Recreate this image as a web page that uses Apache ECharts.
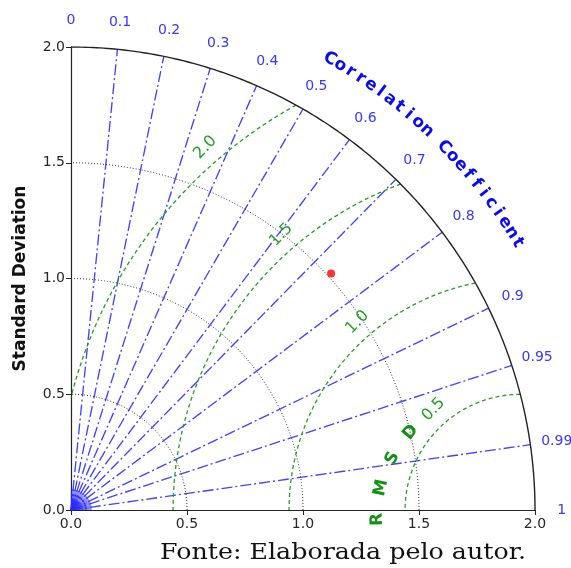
<!DOCTYPE html>
<html>
<head>
<meta charset="utf-8">
<script src="https://cdn.jsdelivr.net/npm/echarts@6/dist/echarts.min.js"></script>
<style>
html,body{margin:0;padding:0;background:#fff;}
#chart{width:571px;height:568px;}
</style>
</head>
<body>
<div id="chart"></div>
<script>
// ---- data ----
const corrTicks = [0, 0.1, 0.2, 0.3, 0.4, 0.5, 0.6, 0.7, 0.8, 0.9, 0.95, 0.99, 1];
const corrTickLabels = ['0', '0.1', '0.2', '0.3', '0.4', '0.5', '0.6', '0.7', '0.8', '0.9', '0.95', '0.99', '1'];
const stdAxisTicks = [0, 0.5, 1.0, 1.5, 2.0];
const stdCircles = [0.5, 1.0, 1.5];
const stdMax = 2.0;
const refStd = 1.94;
const rmsdLevels = [0.5, 1.0, 1.5, 2.0];
const rmsdLabels = ['0.5', '1.0', '1.5', '2.0'];
const modelStd = [1.517];
const modelCorr = [0.739];
const corrTitle = 'Correlation Coefficient';
const rmsdTitle = 'RMSD';
const yTitle = 'Standard Deviation';
const footer = 'Fonte: Elaborada pelo autor.';

// ---- geometry helpers ----
const D2R = Math.PI / 180;
function arc(cx, cy, r, a0, a1, n) {
  const pts = [];
  for (let i = 0; i <= n; i++) {
    const a = a0 + (a1 - a0) * i / n;
    pts.push([cx + r * Math.cos(a), cy + r * Math.sin(a)]);
  }
  return pts;
}
const series = [];
const BLUE = 'rgb(45,45,255)';
const GREEN = 'rgb(35,160,35)';

// correlation rays
corrTicks.forEach(c => {
  if (c <= 0 || c >= 1) return;
  const s = Math.sqrt(1 - c * c);
  series.push({type: 'line', data: [[0, 0], [stdMax * c, stdMax * s]], showSymbol: false, silent: true,
    lineStyle: {color: BLUE, width: 1.35, type: [11, 3, 2, 3], opacity: 0.9}, z: 2});
});
// dense fan near origin
for (let a = 2; a < 90; a += 3) {
  const r0 = 0.09;
  series.push({type: 'line', data: [[0, 0], [r0 * Math.cos(a * D2R), r0 * Math.sin(a * D2R)]], showSymbol: false, silent: true,
    lineStyle: {color: BLUE, width: 1, opacity: 0.6}, z: 2});
}
[0.02, 0.035, 0.05, 0.065].forEach(r => {
  series.push({type: 'line', data: arc(0, 0, r, 0, Math.PI / 2, 30), showSymbol: false, silent: true,
    lineStyle: {color: BLUE, width: 1, opacity: 0.7}, z: 2});
});
// std dotted circles
stdCircles.forEach(r => {
  series.push({type: 'line', data: arc(0, 0, r, 0, Math.PI / 2, 120), showSymbol: false, silent: true,
    lineStyle: {color: '#333', width: 1, type: [1, 2]}, z: 2});
});
// outer arc
series.push({type: 'line', data: arc(0, 0, stdMax, 0, Math.PI / 2, 200), showSymbol: false, silent: true,
  lineStyle: {color: '#222', width: 1.4}, z: 3});
// RMSD contours
rmsdLevels.forEach(r => {
  let cmin = (stdMax * stdMax - refStd * refStd - r * r) / (2 * refStd * r);
  cmin = Math.max(-1, Math.min(1, cmin));
  const t0 = Math.acos(cmin);
  const t1 = r > refStd ? Math.acos(-refStd / r) : Math.PI;
  series.push({type: 'line', data: arc(refStd, 0, r, t0, t1, 150), showSymbol: false, silent: true,
    lineStyle: {color: GREEN, width: 1.3, type: [4, 3]}, z: 2});
});

// text series helper
function textSeries(points, texts, rots, font, fill) {
  return {
    type: 'custom', silent: true, clip: false, z: 10,
    data: points,
    renderItem: (params, api) => {
      const i = params.dataIndex;
      const p = api.coord([api.value(0), api.value(1)]);
      return {type: 'text', x: p[0], y: p[1], rotation: rots[i] * D2R,
        style: {text: texts[i], fill: fill, font: font, align: 'center', verticalAlign: 'middle'}};
    }
  };
}
// correlation tick labels
const labR = 2.115;
series.push(textSeries(
  corrTicks.map(c => [labR * c, labR * Math.sqrt(1 - c * c)]),
  corrTickLabels, corrTicks.map(() => 0), '14px "DejaVu Sans"', 'rgb(55,55,255)'));
// correlation title along arc
const titleChars = corrTitle.split('');
const tA0 = 60.2, tStep = 1.33, tR = 2.245;
series.push(textSeries(
  titleChars.map((ch, i) => { const a = (tA0 - i * tStep) * D2R; return [tR * Math.cos(a), tR * Math.sin(a)]; }),
  titleChars, titleChars.map((ch, i) => tA0 - i * tStep - 90), 'bold 17px "DejaVu Sans"', '#0a0aee'));
// RMSD level labels
const rlA = 131;
series.push(textSeries(
  rmsdLevels.map(r => [refStd + (r + 0.075) * Math.cos(rlA * D2R), (r + 0.075) * Math.sin(rlA * D2R)]),
  rmsdLabels, rmsdLevels.map(() => 46), '16px "DejaVu Sans"', GREEN));
// RMSD title letters
const rmChars = rmsdTitle.split('');
const rcx = refStd - 0.06, rcy = -0.04, rr = 0.56;
const rAngles = [180, 166, 152, 138];
series.push(textSeries(
  rmChars.map((ch, i) => [rcx + rr * Math.cos(rAngles[i] * D2R), rcy + rr * Math.sin(rAngles[i] * D2R)]),
  rmChars, rAngles.map(a => a - 88), 'bold 17px "DejaVu Sans"', 'rgb(20,145,20)'));
// model point
series.push({type: 'scatter', data: modelStd.map((s, i) => [s * modelCorr[i], s * Math.sqrt(1 - modelCorr[i] ** 2)]),
  symbol: 'circle', symbolSize: 8, itemStyle: {color: '#ff0000'}, z: 20, silent: true});

// footer width
const cv = document.createElement('canvas').getContext('2d');
cv.font = '22px "DejaVu Serif"';
const fw = cv.measureText(footer).width;
const fScale = 366 / fw;

const axisCommon = {
  type: 'value', min: 0, max: 2, interval: 0.5,
  axisLine: {show: true, lineStyle: {color: '#222', width: 1.2}},
  axisTick: {show: true, length: 5, lineStyle: {color: '#222'}},
  axisLabel: {color: '#262626', fontSize: 14, fontFamily: 'DejaVu Sans', formatter: v => v.toFixed(1)},
  splitLine: {show: false}
};

const chart = echarts.init(document.getElementById('chart'), null, {renderer: 'canvas'});
chart.setOption({
  animation: false,
  backgroundColor: '#fff',
  grid: {left: 71, top: 47, width: 464, height: 463},
  xAxis: Object.assign({}, axisCommon, {axisLabel: Object.assign({}, axisCommon.axisLabel, {margin: 7})}),
  yAxis: Object.assign({}, axisCommon, {
    name: yTitle, nameLocation: 'middle', nameGap: 42,
    nameTextStyle: {fontSize: 17, fontWeight: 'bold', color: '#111', fontFamily: 'DejaVu Sans'},
    axisLabel: Object.assign({}, axisCommon.axisLabel, {margin: 6})
  }),
  graphic: [{
    type: 'text', x: 160, y: 553, scaleX: fScale, scaleY: 1,
    style: {text: footer, font: '22px "DejaVu Serif"', fill: '#111', verticalAlign: 'middle'}
  }],
  series: series
});
</script>
</body>
</html>
